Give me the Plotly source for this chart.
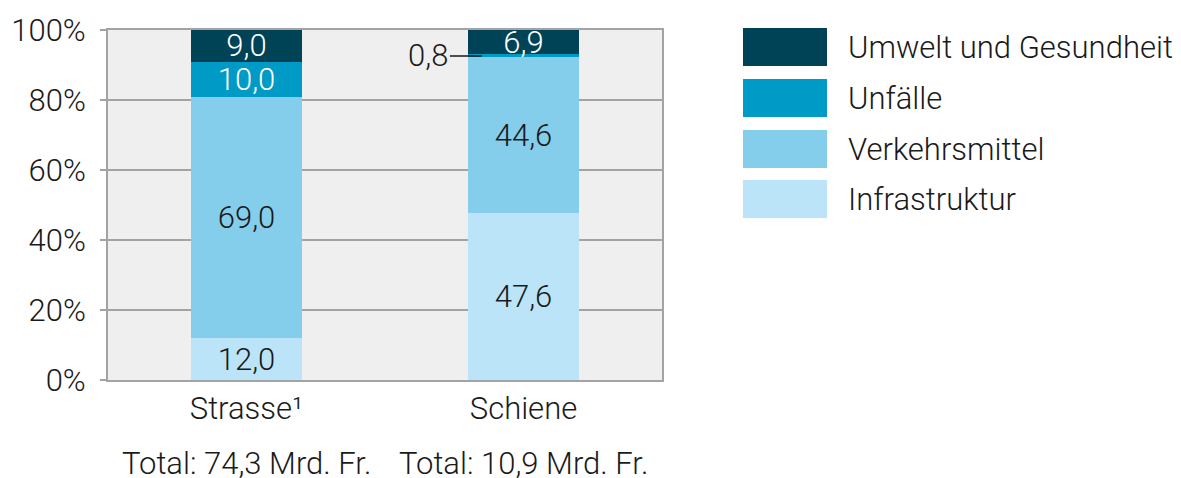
import plotly.graph_objects as go

categories = ["Strasse¹", "Schiene"]
totals = ["Total: 74,3 Mrd. Fr.", "Total: 10,9 Mrd. Fr."]
series_names = ["Infrastruktur", "Verkehrsmittel", "Unfälle", "Umwelt und Gesundheit"]
infrastruktur = [12.0, 47.6]
verkehrsmittel = [69.0, 44.6]
unfaelle = [10.0, 0.8]
umwelt = [9.0, 6.9]
colors = ["#bce4f8", "#84cdeb", "#009ac7", "#004356"]
text_colors = ["#1a1a1a", "#1a1a1a", "#ffffff", "#ffffff"]
y_ticks = [0, 20, 40, 60, 80, 100]
y_ticktext = [f"{v}%" for v in y_ticks]

series = [infrastruktur, verkehrsmittel, unfaelle, umwelt]
FONT = "Roboto"
FS = 31
GRID = "#a3a3a3"
TXT = "#1a1a1a"

OFF = 8  # page body margin
W, H = 1181 - OFF, 478 - OFF
L, R, T, B = 108 - OFF, 662 - OFF, 30 - OFF, 380 - OFF


def fmt(v):
    return f"{v:.1f}".replace(".", ",")


def px_x(px):
    return (px - OFF - L) / (R - L)


def px_y(py):
    return (B - (py - OFF)) / (B - T)


def font(color=TXT):
    return dict(family=FONT, size=FS, color=color, weight=300)


fig = go.Figure()
for name, vals, col, tcol in zip(series_names, series, colors, text_colors):
    texts = [fmt(v) if v >= 2 else "" for v in vals]
    fig.add_trace(go.Bar(
        x=categories, y=vals, name=name, marker=dict(color=col, line=dict(width=0)),
        text=texts, textposition="inside", insidetextanchor="middle",
        constraintext="none", textfont=font(tcol), showlegend=False,
    ))

# small-segment label with leader line (Schiene, Unfälle)
small_idx = 1
y_small = infrastruktur[small_idx] + verkehrsmittel[small_idx] + unfaelle[small_idx] / 2
fig.add_annotation(
    x=small_idx - 0.15, y=y_small, xref="x", yref="y",
    text=fmt(unfaelle[small_idx]), showarrow=True, arrowhead=0, arrowwidth=1.5,
    arrowcolor=TXT, ax=-32, ay=0, xanchor="right", font=font(),
)

# totals under categories
for c, t in zip(categories, totals):
    fig.add_annotation(x=c, y=px_y(463), xref="x", yref="paper", text=t,
                       showarrow=False, yanchor="middle", font=font())

# legend (manual)
legend_tops = [28, 79, 130, 180]
for top, name, col in zip(legend_tops, series_names[::-1], colors[::-1]):
    fig.add_shape(type="rect", xref="paper", yref="paper",
                  x0=px_x(743), x1=px_x(827), y0=px_y(top + 38), y1=px_y(top),
                  fillcolor=col, line=dict(width=0))
    fig.add_annotation(x=px_x(846), y=px_y(top + 19), xref="paper", yref="paper",
                       text=name, showarrow=False, xanchor="left", yanchor="middle",
                       font=font())

fig.update_layout(
    width=W, height=H, barmode="stack", barnorm="percent", bargap=0.6,
    margin=dict(l=L, r=W - R, t=T, b=H - B, autoexpand=False),
    plot_bgcolor="#efefef", paper_bgcolor="#ffffff",
    font=font(), showlegend=False,
)
fig.update_yaxes(range=[0, 100], tickvals=y_ticks, ticktext=y_ticktext,
                 showgrid=True, gridcolor=GRID, gridwidth=2,
                 showline=True, mirror=True, linecolor=GRID, linewidth=2,
                 ticks="outside", ticklen=6, tickcolor=GRID, tickwidth=2,
                 zeroline=False, fixedrange=True, ticklabelstandoff=8,
                 tickfont=font())
fig.update_xaxes(showline=True, mirror=True, linecolor=GRID, linewidth=2,
                 ticks="", showgrid=False, fixedrange=True, tickfont=font())

fig.write_html("out.html")
